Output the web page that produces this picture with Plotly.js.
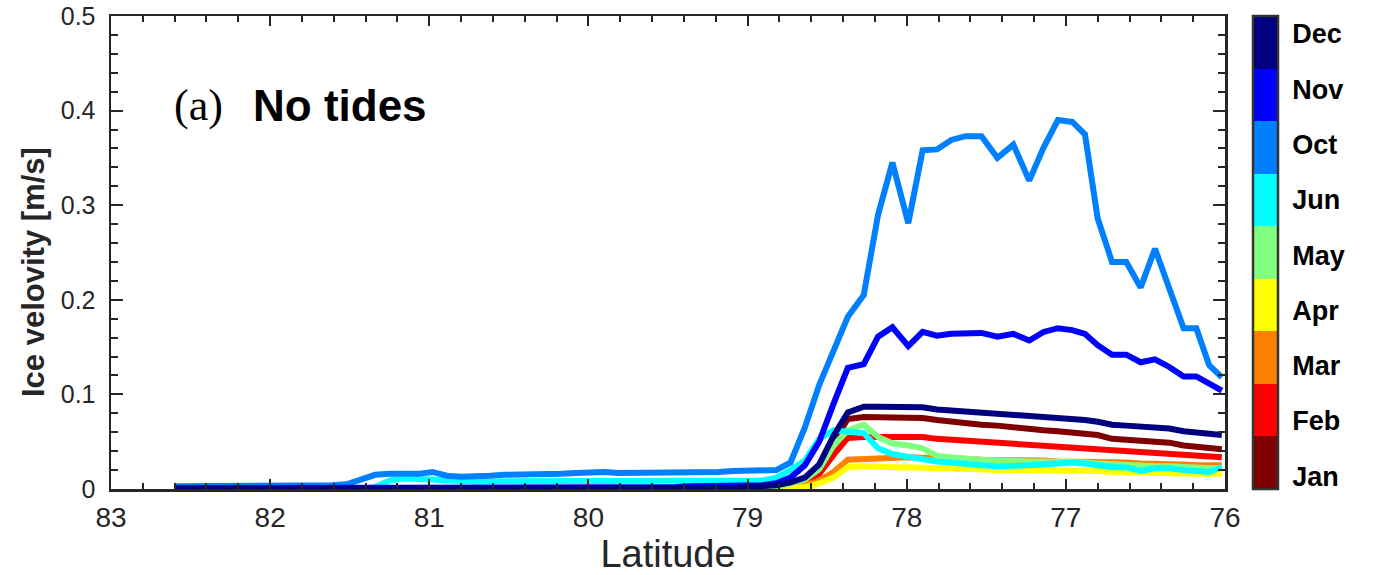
<!DOCTYPE html>
<html>
<head>
<meta charset="utf-8">
<script src="https://cdn.plot.ly/plotly-3.0.1.min.js"></script>
<style>html,body{margin:0;padding:0;background:#fff;}#chart{width:1376px;height:575px;}</style>
</head>
<body>
<div id="chart"></div>
<script>
const lat = [
  82.60, 82.51, 82.42, 82.33, 82.24, 82.15, 82.06, 81.97, 81.88, 81.79,
  81.70, 81.61, 81.52, 81.43, 81.34, 81.25, 81.16, 81.07, 80.98, 80.89,
  80.80, 80.71, 80.62, 80.53, 80.44, 80.35, 80.26, 80.17, 80.08, 79.99,
  79.90, 79.81, 79.72, 79.63, 79.54, 79.45, 79.36, 79.27, 79.18, 79.09,
  79.00, 78.91, 78.82, 78.73, 78.64, 78.55, 78.46, 78.37, 78.27, 78.18,
  78.09, 77.99, 77.90, 77.81, 77.72, 77.63, 77.53, 77.43, 77.33, 77.23,
  77.14, 77.05, 76.96, 76.88, 76.80, 76.71, 76.62, 76.53, 76.44, 76.35,
  76.26, 76.18, 76.10, 76.02
];

const jan = [
  0,0,0,0,0,0,0,0,0,0,
  0,0,0,0,0,0,0,0,0,0,
  0,0,0,0,0,0,0,0,0,0,
  0,0,0,0,0,0,0,0,0,0.001,
  0.001,0.002,0.003,0.005,0.010,0.022,0.050,0.074,0.076,0.076,
  0.076,0.076,0.075,0.073,0.071,0.069,0.068,0.067,0.065,0.064,
  0.062,0.061,0.060,0.059,0.057,0.053,0.052,0.050,0.050,0.049,
  0.046,0.045,0.043,0.042
];
const feb = [
  0,0,0,0,0,0,0,0,0,0,
  0,0,0,0,0,0,0,0,0,0,
  0,0,0,0,0,0,0,0,0,0,
  0,0,0,0,0,0,0,0,0,0,
  0.001,0.001,0.002,0.004,0.008,0.016,0.036,0.054,0.055,0.055,
  0.055,0.055,0.055,0.053,0.052,0.0515,0.051,0.050,0.048,0.047,
  0.046,0.045,0.045,0.044,0.043,0.042,0.041,0.040,0.039,0.038,
  0.036,0.035,0.034,0.0335
];
const mar = [
  0,0,0,0,0,0,0,0,0,0,
  0,0,0,0,0,0,0,0,0,0,
  0,0,0,0,0,0,0,0,0,0,
  0,0,0,0,0,0,0,0,0,0,
  0,0.001,0.001,0.002,0.004,0.009,0.018,0.031,0.032,0.033,
  0.033,0.0335,0.033,0.033,0.032,0.032,0.031,0.031,0.030,0.030,
  0.030,0.029,0.029,0.029,0.029,0.028,0.028,0.027,0.027,0.026,
  0.026,0.025,0.025,0.025
];
const apr = [
  0,0,0,0,0,0,0,0,0,0,
  0,0,0,0,0,0,0,0,0,0,
  0,0,0,0,0,0,0,0,0,0,
  0,0,0,0,0,0,0,0,0,0,
  0,0,0.001,0.001,0.002,0.006,0.012,0.023,0.024,0.023,
  0.023,0.023,0.022,0.022,0.022,0.021,0.021,0.020,0.020,0.020,
  0.0195,0.019,0.019,0.019,0.019,0.018,0.018,0.018,0.018,0.017,
  0.0165,0.016,0.016,0.016
];
const may = [
  0,0,0,0,0,0,0,0,0,0,
  0,0,0,0,0,0,0,0,0,0,
  0,0,0,0,0,0,0,0,0,0,
  0,0,0,0,0,0,0,0,0,0,
  0.001,0.001,0.002,0.006,0.010,0.021,0.046,0.062,0.068,0.055,
  0.048,0.046,0.043,0.035,0.033,0.032,0.031,0.030,0.030,0.029,
  0.029,0.029,0.028,0.028,0.027,0.026,0.025,0.025,0.024,0.024,
  0.023,0.023,0.022,0.022
];
const jun = [
  0,0,0,0,0,0,0,0,0,0,
  0,0,0,0,0.002,0.009,0.011,0.011,0.010,0.009,
  0.008,0.008,0.008,0.008,0.008,0.008,0.008,0.008,0.008,0.008,
  0.008,0.008,0.008,0.008,0.008,0.008,0.008,0.008,0.008,0.008,
  0.008,0.009,0.012,0.020,0.030,0.053,0.062,0.060,0.059,0.043,
  0.037,0.034,0.031,0.029,0.028,0.026,0.025,0.024,0.024,0.025,
  0.026,0.027,0.028,0.027,0.025,0.023,0.023,0.019,0.022,0.022,
  0.020,0.019,0.018,0.023
];
const oct = [
  0.003,0.003,0.003,0.003,0.004,0.004,0.004,0.004,0.004,0.004,
  0.004,0.004,0.005,0.010,0.015,0.016,0.016,0.016,0.018,0.014,
  0.013,0.013,0.014,0.015,0.015,0.016,0.016,0.016,0.017,0.018,
  0.018,0.017,0.017,0.017,0.017,0.017,0.018,0.018,0.018,0.019,
  0.019,0.020,0.020,0.028,0.065,0.110,0.145,0.182,0.205,0.290,
  0.345,0.281,0.358,0.359,0.369,0.373,0.373,0.350,0.364,0.326,
  0.361,0.390,0.388,0.375,0.286,0.240,0.240,0.213,0.254,0.214,
  0.170,0.170,0.131,0.118
];
const nov = [
  0.001,0.001,0.001,0.001,0.001,0.001,0.001,0.001,0.001,0.001,
  0.001,0.001,0.001,0.001,0.001,0.001,0.001,0.001,0.001,0.001,
  0.002,0.002,0.002,0.002,0.002,0.002,0.002,0.002,0.002,0.002,
  0.002,0.002,0.002,0.002,0.002,0.002,0.003,0.003,0.003,0.003,
  0.003,0.004,0.006,0.012,0.025,0.050,0.090,0.128,0.132,0.161,
  0.171,0.151,0.166,0.162,0.164,0.165,0.165,0.161,0.164,0.157,
  0.166,0.170,0.168,0.164,0.152,0.142,0.142,0.134,0.137,0.129,
  0.119,0.119,0.111,0.104
];
const dec = [
  0,0,0,0,0,0,0,0,0,0,
  0,0,0,0,0,0,0,0,0,0,
  0,0,0,0,0,0,0,0,0,0,
  0,0,0,0,0,0,0,0,0,0.001,
  0.002,0.003,0.004,0.007,0.012,0.026,0.056,0.081,0.087,0.087,
  0.087,0.087,0.0865,0.084,0.083,0.0815,0.081,0.080,0.078,0.077,
  0.076,0.075,0.074,0.073,0.071,0.068,0.067,0.066,0.066,0.064,
  0.061,0.060,0.058,0.057
];

const months = ['Jan','Feb','Mar','Apr','May','Jun','Oct','Nov','Dec'];
const colors = ['#7f0000','#ff0000','#ff8000','#ffff00','#80ff80','#00ffff','#0080ff','#0000ff','#000080'];
const series = [jan, feb, mar, apr, may, jun, oct, nov, dec];
const xTicks = [83, 82, 81, 80, 79, 78, 77, 76];
const yTicks = [0, 0.1, 0.2, 0.3, 0.4, 0.5];
const yTickText = ['0', '0.1', '0.2', '0.3', '0.4', '0.5'];

const SANS = 'Liberation Sans, Arial, Helvetica, sans-serif';
const SERIF = 'Liberation Serif, Times New Roman, serif';

const traces = series.map((s, i) => ({
  type: 'scatter', mode: 'lines', x: lat, y: s, name: months[i],
  line: {color: colors[i], width: 6}, showlegend: false, hoverinfo: 'skip'
}));

const n = months.length;
const cscale = [];
colors.forEach((c, i) => { cscale.push([i / n, c]); cscale.push([(i + 1) / n, c]); });
const idx = months.map((m, i) => i + 1);
// label positions in the reference are spread slightly wider than the colour blocks
const labelPos = idx.map(v => 4.95 + (v - 5) * 1.052);

traces.push({
  type: 'scatter', mode: 'markers', x: months.map(() => null), y: months.map(() => null),
  showlegend: false, hoverinfo: 'skip',
  marker: {
    color: idx, cmin: 0.5, cmax: n + 0.5, colorscale: cscale, showscale: true,
    colorbar: {
      x: 1.0251, xanchor: 'left', xpad: 0, y: 0.5, yanchor: 'middle', ypad: 0,
      len: 1, lenmode: 'fraction', thickness: 25,
      outlinewidth: 2.5, outlinecolor: '#333333',
      tickvals: labelPos, ticktext: months, ticks: 'outside', ticklen: 8, tickcolor: 'rgba(0,0,0,0)',
      tickfont: {family: SANS, size: 27, color: '#000', weight: 'bold'}
    }
  }
});

const axCommon = {
  showline: true, linewidth: 2.5, linecolor: '#262626', mirror: 'allticks',
  ticks: 'inside', tickwidth: 2, tickcolor: '#262626', showgrid: false, zeroline: false
};

const layout = {
  width: 1376, height: 575,
  margin: {l: 111, r: 151, t: 16, b: 86, pad: 0},
  paper_bgcolor: '#ffffff', plot_bgcolor: '#ffffff',
  showlegend: false,
  xaxis: Object.assign({}, axCommon, {
    range: [83, 76], tickmode: 'array', tickvals: xTicks, ticklen: 10,
    minor: {dtick: 0.2, ticks: 'inside', ticklen: 6, tickwidth: 2, tickcolor: '#262626', showgrid: false},
    tickfont: {family: SANS, size: 28, color: '#262626'}, ticklabelstandoff: 2,
    title: {text: 'Latitude', font: {family: SANS, size: 38, color: '#262626'}, standoff: 12}
  }),
  yaxis: Object.assign({}, axCommon, {
    range: [0, 0.5], tickmode: 'array', tickvals: yTicks, ticktext: yTickText, ticklen: 12,
    minor: {dtick: 0.02, ticks: 'inside', ticklen: 7, tickwidth: 2, tickcolor: '#262626', showgrid: false},
    tickfont: {family: SANS, size: 25, color: '#262626'}, ticklabelstandoff: 8
  }),
  annotations: [
    {text: 'Ice velovity [m/s]', xref: 'paper', yref: 'paper', x: -0.0691, y: 0.4588,
     xanchor: 'center', yanchor: 'middle', textangle: -90, showarrow: false,
     font: {family: SANS, size: 31, color: '#262626', weight: 'bold'}},
    {text: '(a)', xref: 'paper', yref: 'paper', x: 0.0552, y: 0.81, xanchor: 'left', yanchor: 'middle',
     showarrow: false, font: {family: SERIF, size: 44, color: '#000'}},
    {text: 'No tides', xref: 'paper', yref: 'paper', x: 0.1257, y: 0.81, xanchor: 'left', yanchor: 'middle',
     showarrow: false, font: {family: SANS, size: 44, color: '#000', weight: 'bold'}}
  ]
};

Plotly.newPlot('chart', traces, layout, {displayModeBar: false, staticPlot: true});
</script>
</body>
</html>
